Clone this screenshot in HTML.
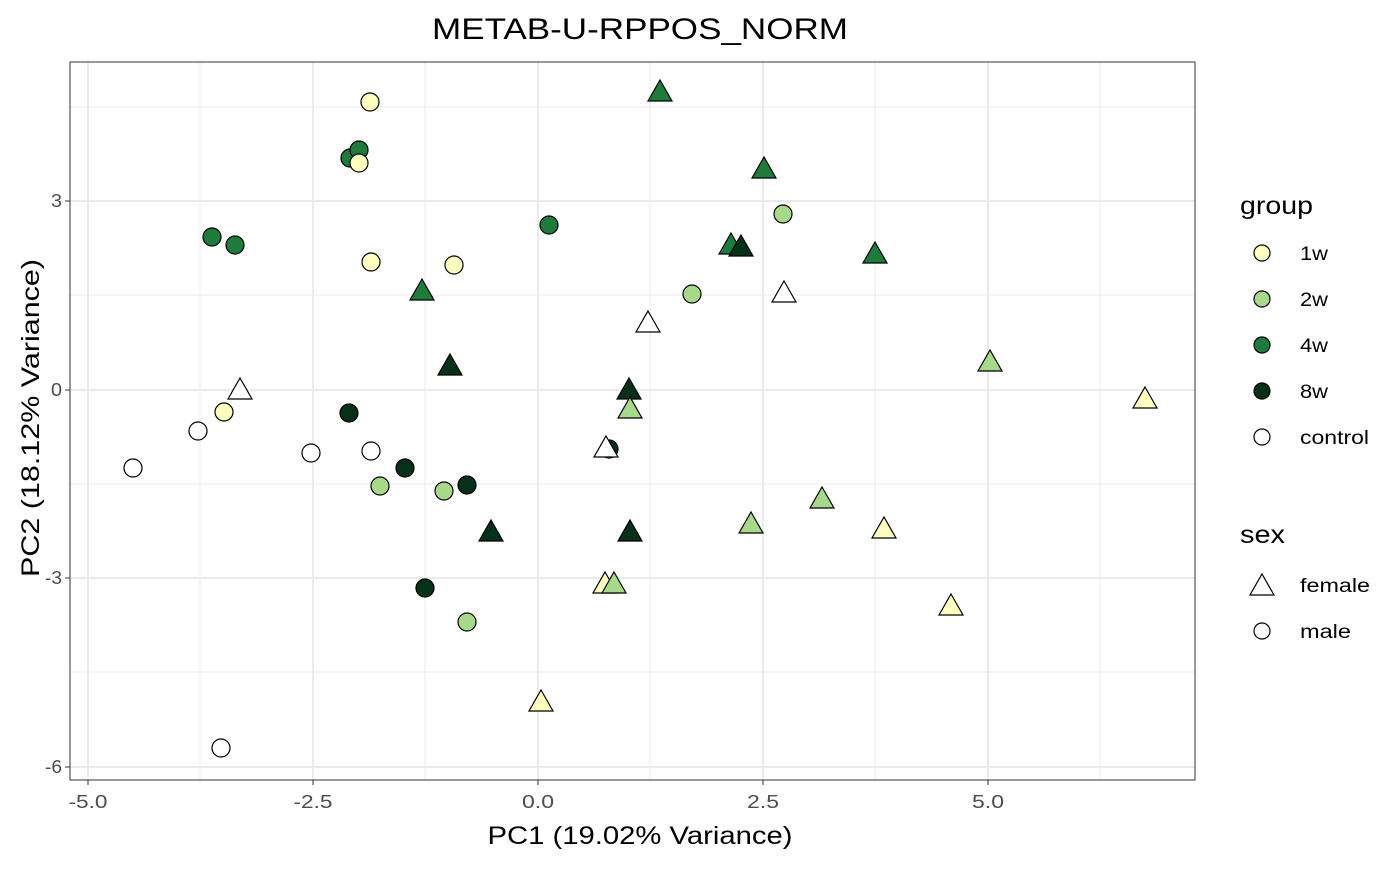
<!DOCTYPE html>
<html><head><meta charset="utf-8"><style>body{margin:0;background:#fff}</style></head><body>
<svg width="1400" height="865" xmlns="http://www.w3.org/2000/svg" font-family="Liberation Sans, sans-serif">
<rect width="1400" height="865" fill="#fff"/>
<g stroke="#ebebeb" stroke-width="1">
<line x1="200" y1="62" x2="200" y2="780"/><line x1="425" y1="62" x2="425" y2="780"/><line x1="650" y1="62" x2="650" y2="780"/><line x1="875" y1="62" x2="875" y2="780"/><line x1="1100" y1="62" x2="1100" y2="780"/>
<line x1="70" y1="107" x2="1195" y2="107"/><line x1="70" y1="295" x2="1195" y2="295"/><line x1="70" y1="484" x2="1195" y2="484"/><line x1="70" y1="672" x2="1195" y2="672"/>
</g>
<g stroke="#ebebeb" stroke-width="2">
<line x1="88" y1="62" x2="88" y2="780"/><line x1="313" y1="62" x2="313" y2="780"/><line x1="538" y1="62" x2="538" y2="780"/><line x1="763" y1="62" x2="763" y2="780"/><line x1="988" y1="62" x2="988" y2="780"/>
<line x1="70" y1="201" x2="1195" y2="201"/><line x1="70" y1="390" x2="1195" y2="390"/><line x1="70" y1="578" x2="1195" y2="578"/><line x1="70" y1="767" x2="1195" y2="767"/>
</g>
<rect x="70" y="62" width="1125" height="718" fill="none" stroke="#333" stroke-width="1"/>
<g stroke="#333"><line x1="88" y1="780" x2="88" y2="785"/><line x1="313" y1="780" x2="313" y2="785"/><line x1="538" y1="780" x2="538" y2="785"/><line x1="763" y1="780" x2="763" y2="785"/><line x1="988" y1="780" x2="988" y2="785"/>
<line x1="65" y1="201" x2="70" y2="201"/><line x1="65" y1="390" x2="70" y2="390"/><line x1="65" y1="578" x2="70" y2="578"/><line x1="65" y1="767" x2="70" y2="767"/></g>
<g fill="#4d4d4d" font-size="18" text-anchor="middle">
<text x="88" y="808" textLength="39" lengthAdjust="spacingAndGlyphs">-5.0</text><text x="313" y="808" textLength="39" lengthAdjust="spacingAndGlyphs">-2.5</text><text x="538" y="808" textLength="32" lengthAdjust="spacingAndGlyphs">0.0</text><text x="763" y="808" textLength="32" lengthAdjust="spacingAndGlyphs">2.5</text><text x="988" y="808" textLength="32" lengthAdjust="spacingAndGlyphs">5.0</text>
</g>
<g fill="#4d4d4d" font-size="18" text-anchor="end">
<text x="62" y="207" textLength="11" lengthAdjust="spacingAndGlyphs">3</text><text x="62" y="396" textLength="11" lengthAdjust="spacingAndGlyphs">0</text><text x="62" y="584" textLength="17" lengthAdjust="spacingAndGlyphs">-3</text><text x="62" y="773" textLength="17" lengthAdjust="spacingAndGlyphs">-6</text>
</g>
<text x="640" y="39" font-size="30" text-anchor="middle" textLength="416" lengthAdjust="spacingAndGlyphs">METAB-U-RPPOS_NORM</text>
<text x="640" y="844" font-size="25" text-anchor="middle" textLength="305" lengthAdjust="spacingAndGlyphs">PC1 (19.02% Variance)</text>
<text transform="translate(39,418) rotate(-90)" font-size="25" text-anchor="middle" textLength="318" lengthAdjust="spacingAndGlyphs">PC2 (18.12% Variance)</text>
<g stroke="#000" stroke-width="1.2">
<g fill="#ffffc0"><circle cx="370" cy="102" r="9"/><circle cx="371" cy="262" r="9"/><circle cx="454" cy="265" r="9"/><circle cx="224" cy="412" r="9"/></g>
<g fill="#1e7b3c"><circle cx="350" cy="158" r="9"/><circle cx="359" cy="150" r="9"/><circle cx="212" cy="237" r="9"/><circle cx="235" cy="245" r="9"/><circle cx="549" cy="225" r="9"/></g>
<circle cx="359" cy="163" r="9" fill="#ffffc0"/>
<g fill="#a8d98a"><circle cx="783" cy="214" r="9"/><circle cx="692" cy="294" r="9"/><circle cx="380" cy="486" r="9"/><circle cx="444" cy="491" r="9"/><circle cx="467" cy="622" r="9"/></g>
<g fill="#06301a"><circle cx="349" cy="413" r="9"/><circle cx="405" cy="468" r="9"/><circle cx="467" cy="485" r="9"/><circle cx="425" cy="588" r="9"/><circle cx="609" cy="449" r="9"/></g>
<g fill="#fff"><circle cx="133" cy="468" r="9"/><circle cx="198" cy="431" r="9"/><circle cx="311" cy="453" r="9"/><circle cx="371" cy="451" r="9"/><circle cx="221" cy="748" r="9"/></g>
</g>
<defs><path id="t" d="M0,-13 L12,8 L-12,8 Z" stroke="#000" stroke-width="1.2"/></defs>
<g fill="#1e7b3c"><use href="#t" x="660" y="93"/><use href="#t" x="764" y="170"/><use href="#t" x="731" y="246"/><use href="#t" x="875" y="255"/><use href="#t" x="422" y="292"/></g>
<use href="#t" x="741" y="248" fill="#06301a"/>
<g fill="#06301a"><use href="#t" x="450" y="367"/><use href="#t" x="629" y="391"/><use href="#t" x="491" y="533"/><use href="#t" x="630" y="533"/></g>
<g fill="#a8d98a"><use href="#t" x="630" y="410"/><use href="#t" x="990" y="363"/><use href="#t" x="822" y="500"/><use href="#t" x="751" y="525"/></g>
<g fill="#ffffc0"><use href="#t" x="1145" y="400"/><use href="#t" x="884" y="530"/><use href="#t" x="951" y="607"/><use href="#t" x="541" y="703"/><use href="#t" x="605" y="585"/></g>
<use href="#t" x="614" y="585" fill="#a8d98a"/>
<g fill="#fff"><use href="#t" x="240" y="391"/><use href="#t" x="648" y="324"/><use href="#t" x="784" y="294"/><use href="#t" x="606" y="449"/></g>
<text x="1240" y="214" font-size="25" textLength="73" lengthAdjust="spacingAndGlyphs">group</text>
<g stroke="#000" stroke-width="1.2">
<circle cx="1262" cy="253" r="8" fill="#ffffc0"/><circle cx="1262" cy="299" r="8" fill="#a8d98a"/><circle cx="1262" cy="345" r="8" fill="#1e7b3c"/><circle cx="1262" cy="391" r="8" fill="#06301a"/><circle cx="1262" cy="437" r="8" fill="#fff"/>
<circle cx="1262" cy="631" r="8" fill="#fff"/></g>
<use href="#t" x="1262" y="587" fill="#fff"/>
<g font-size="19"><text x="1300" y="260" textLength="28" lengthAdjust="spacingAndGlyphs">1w</text><text x="1300" y="306" textLength="28" lengthAdjust="spacingAndGlyphs">2w</text><text x="1300" y="352" textLength="28" lengthAdjust="spacingAndGlyphs">4w</text><text x="1300" y="398" textLength="28" lengthAdjust="spacingAndGlyphs">8w</text><text x="1300" y="444" textLength="69" lengthAdjust="spacingAndGlyphs">control</text>
<text x="1300" y="592" textLength="70" lengthAdjust="spacingAndGlyphs">female</text><text x="1300" y="638" textLength="51" lengthAdjust="spacingAndGlyphs">male</text></g>
<text x="1240" y="543" font-size="25" textLength="45" lengthAdjust="spacingAndGlyphs">sex</text>
</svg>
</body></html>
